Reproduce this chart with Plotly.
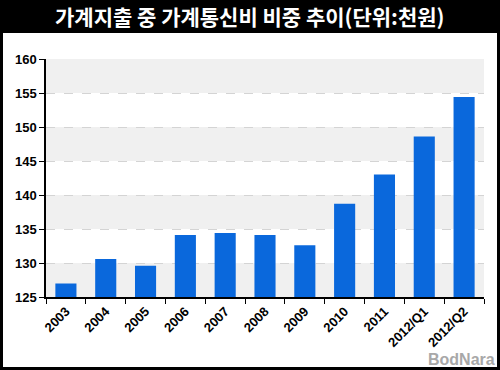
import plotly.graph_objects as go

categories = ["2003", "2004", "2005", "2006", "2007", "2008", "2009", "2010", "2011", "2012/Q1", "2012/Q2"]
values = [127.0, 130.6, 129.6, 134.1, 134.4, 134.1, 132.6, 138.7, 143.0, 148.6, 154.4]
y_ticks = [125, 130, 135, 140, 145, 150, 155, 160]
title_text = "가계지출 중 가계통신비 비중 추이(단위:천원)"

W, H = 500, 370
L, R, T, B = 46, 16, 59, 73
pw, ph = W - L - R, H - T - B

def px(x):
    return (x - L) / pw

def py(y):
    return (H - B - y) / ph

fig = go.Figure()
fig.add_trace(go.Bar(
    x=categories, y=values, marker=dict(color="#0a68dc", line=dict(width=0)),
    width=0.53, hoverinfo="skip"
))

shapes = []
# alternating bands
for i in range(len(y_ticks) - 1):
    if i % 2 == 0:
        shapes.append(dict(type="rect", xref="paper", yref="y", x0=0, x1=1,
                           y0=y_ticks[i], y1=y_ticks[i + 1], fillcolor="#f0f0f0",
                           line=dict(width=0), layer="below"))
# header
shapes.append(dict(type="rect", xref="paper", yref="paper", x0=px(-5), x1=px(W + 5),
                   y0=py(33), y1=py(-5), fillcolor="black", line=dict(width=0), layer="above"))
# border
for (x0, x1, y0, y1) in [(-5, 3, -5, H + 5), (W - 3, W + 5, -5, H + 5), (-5, W + 5, H - 3, H + 5)]:
    shapes.append(dict(type="rect", xref="paper", yref="paper", x0=px(x0), x1=px(x1),
                       y0=py(y1), y1=py(y0), fillcolor="black", line=dict(width=0), layer="above"))

fig.update_layout(
    width=W, height=H,
    margin=dict(l=L, r=R, t=T, b=B),
    paper_bgcolor="white", plot_bgcolor="white",
    showlegend=False,
    bargap=0.47,
    shapes=shapes,
    annotations=[
        dict(text=title_text, xref="paper", yref="paper", x=px(W / 2), y=py(16),
             xanchor="center", yanchor="middle", showarrow=False,
             font=dict(family="Noto Sans CJK KR", size=21, color="white", weight="bold")),
        dict(text="BodNara", xref="paper", yref="paper", x=px(497), y=py(359),
             xanchor="right", yanchor="middle", showarrow=False,
             font=dict(family="Liberation Sans", size=16, color="#a8a8a8", weight="bold")),
    ],
    xaxis=dict(
        type="category", tickangle=-45, tickson="boundaries",
        ticks="outside", ticklen=5, tickcolor="black",
        showline=True, linecolor="black", linewidth=1.5,
        showgrid=False,
        tickfont=dict(family="Liberation Sans", size=13, color="black", weight="bold"),
    ),
    yaxis=dict(
        range=[125, 160], tickvals=y_ticks,
        ticks="outside", ticklen=5, tickcolor="black",
        showline=True, linecolor="black", linewidth=1.5,
        showgrid=True, gridcolor="#d4d4d4", griddash="dash", gridwidth=1,
        zeroline=False,
        tickfont=dict(family="Liberation Sans", size=13, color="black", weight="bold"),
    ),
)

fig.write_html("out.html", config={"displayModeBar": False},
               post_script="document.body.style.margin='0';document.body.style.overflow='hidden';")
